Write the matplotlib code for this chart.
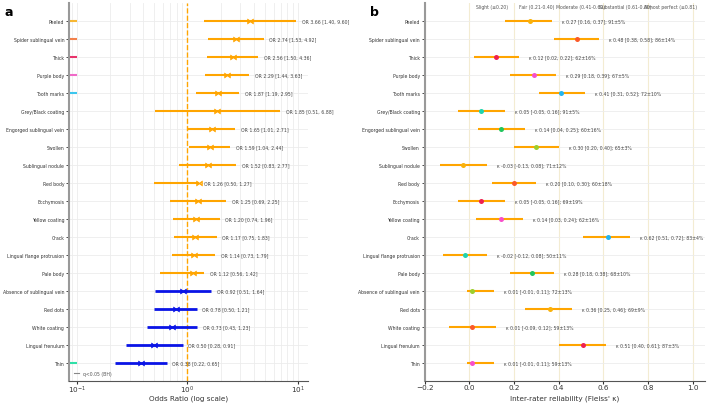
import matplotlib
matplotlib.use("Agg")
import matplotlib.pyplot as plt
from matplotlib.lines import Line2D
import numpy as np

# ознаки (зверху вниз)
features = ["Peeled", "Spider sublingual vein", "Thick", "Purple body", "Tooth marks",
            "Grey/Black coating", "Engorged sublingual vein", "Swollen", "Sublingual nodule",
            "Red body", "Ecchymosis", "Yellow coating", "Crack", "Lingual flange protrusion",
            "Pale body", "Absence of sublingual vein", "Red dots", "White coating",
            "Lingual frenulum", "Thin"]

# панель a: odds ratio та 95% CI
or_val = [3.66, 2.74, 2.56, 2.29, 1.87, 1.85, 1.65, 1.59, 1.52, 1.26,
          1.25, 1.20, 1.17, 1.14, 1.12, 0.92, 0.78, 0.73, 0.50, 0.38]
or_lo = [1.40, 1.53, 1.50, 1.44, 1.19, 0.51, 1.01, 1.04, 0.83, 0.50,
         0.69, 0.74, 0.75, 0.73, 0.56, 0.51, 0.50, 0.43, 0.28, 0.22]
or_hi = [9.60, 4.92, 4.36, 3.63, 2.95, 6.88, 2.71, 2.44, 2.77, 1.27,
         2.25, 1.96, 1.83, 1.79, 1.42, 1.64, 1.21, 1.23, 0.91, 0.65]

# кольорові позначки біля осі на панелі a
tag_rows = ["Peeled", "Spider sublingual vein", "Thick", "Purple body", "Tooth marks", "Thin"]
tag_colors = ["#f7b733", "#f2804a", "#e8336b", "#f06ac8", "#3cc6ee", "#2fe0a8"]

# панель b: Fleiss' kappa, 95% CI та згода (%)
kappa = [0.27, 0.48, 0.12, 0.29, 0.41, 0.05, 0.14, 0.30, -0.03, 0.20,
         0.05, 0.14, 0.62, -0.02, 0.28, 0.01, 0.36, 0.01, 0.51, 0.01]
k_lo = [0.16, 0.38, 0.02, 0.18, 0.31, -0.05, 0.04, 0.20, -0.13, 0.10,
        -0.05, 0.03, 0.51, -0.12, 0.18, -0.01, 0.25, -0.09, 0.40, -0.01]
k_hi = [0.37, 0.58, 0.22, 0.39, 0.52, 0.16, 0.25, 0.40, 0.08, 0.30,
        0.16, 0.24, 0.72, 0.08, 0.38, 0.11, 0.46, 0.12, 0.61, 0.11]
agree = [91, 86, 62, 67, 72, 91, 60, 65, 71, 60, 69, 62, 83, 50, 68, 72, 69, 59, 87, 59]
agree_sd = [5, 14, 16, 5, 10, 5, 16, 3, 12, 18, 19, 16, 4, 11, 10, 13, 9, 13, 3, 13]

palette = ["#f9b20c", "#fb5a2a", "#ee2150", "#f74fcb", "#25b5ee", "#1fd4b0", "#22c55e", "#9ccf2d"]

bands = ["Slight (≤0.20)", "Fair (0.21-0.40)", "Moderate (0.41-0.60)",
         "Substantial (0.61-0.80)", "Almost perfect (≥0.81)"]
band_pos = [0.1, 0.3, 0.5, 0.7, 0.9]

ORANGE = "#ffa500"
y = np.arange(len(features))

fig = plt.figure(figsize=(7.08, 4.06), dpi=100)
ax1 = fig.add_axes([0.0975, 0.06, 0.3376, 0.93])
ax2 = fig.add_axes([0.600, 0.06, 0.3955, 0.93])

# ---------- панель a ----------
ax1.set_xscale("log")
ax1.set_xlim(0.085, 12.3)
ax1.set_ylim(len(features), -1)
ax1.grid(True, which="both", axis="x", color="#ececec", lw=0.6)
ax1.grid(True, which="major", axis="y", color="#ececec", lw=0.6)
ax1.set_axisbelow(True)
ax1.axvline(1, color=ORANGE, ls="--", lw=1)

for i in range(len(features)):
    c = ORANGE if or_val[i] >= 1 else "#0a14e6"
    lw = 1.5 if or_val[i] >= 1 else 2.0
    ax1.plot([or_lo[i], or_hi[i]], [i, i], color=c, lw=lw, solid_capstyle="butt")
    ax1.plot(or_val[i], i, marker="$\\bowtie$", color=c, ms=4.2, mew=0.4)
    ax1.text(or_hi[i] * 1.12, i, f"OR {or_val[i]:.2f} [{or_lo[i]:.2f}, {or_hi[i]:.2f}]",
             fontsize=3.3, color="#444444", va="center")

for name, c in zip(tag_rows, tag_colors):
    i = features.index(name)
    ax1.plot([0.085, 0.1], [i, i], color=c, lw=1.5, solid_capstyle="butt")

ax1.set_yticks(y)
ax1.set_yticklabels(features, fontsize=3.3, color="#333333")
ax1.set_xlabel("Odds Ratio (log scale)", fontsize=5.2, color="#333333")
ax1.xaxis.set_label_coords(0.5, -0.036)
ax1.tick_params(axis="x", labelsize=5.2, length=2, pad=0.5, colors="#333333")
ax1.tick_params(axis="x", which="minor", length=0)
ax1.tick_params(axis="y", length=2, pad=1.5, width=0.5)
ax1.legend(handles=[Line2D([], [], color="#888888", lw=0.8)], labels=["q<0.05 (BH)"],
           loc="lower left", fontsize=3.3, frameon=False, handlelength=1.2,
           labelcolor="#555555", borderaxespad=0.6)

# ---------- панель b ----------
ax2.set_xlim(-0.2, 1.055)
ax2.set_ylim(len(features), -1)
ax2.grid(True, axis="x", color="#f3ecd2", lw=0.8)
ax2.grid(True, axis="y", color="#ececec", lw=0.6)
ax2.set_axisbelow(True)

for i in range(len(features)):
    ax2.plot([k_lo[i], k_hi[i]], [i, i], color=ORANGE, lw=1.5, solid_capstyle="butt")
    ax2.plot(kappa[i], i, "o", color=palette[i % len(palette)], ms=3.6, mec="none")
    ax2.text(k_hi[i] + 0.045, i,
             f"κ {kappa[i]:.2f} [{k_lo[i]:.2f}, {k_hi[i]:.2f}]; {agree[i]}±{agree_sd[i]}%",
             fontsize=3.3, color="#444444", va="center")

for lab, p in zip(bands, band_pos):
    ax2.text(p, -0.8, lab, fontsize=3.3, color="#555555", ha="center", va="center")

ax2.set_yticks(y)
ax2.set_yticklabels(features, fontsize=3.3, color="#333333")
ax2.set_xticks([-0.2, 0.0, 0.2, 0.4, 0.6, 0.8, 1.0])
ax2.set_xlabel("Inter-rater reliability (Fleiss' κ)", fontsize=5.2, color="#333333")
ax2.xaxis.set_label_coords(0.5, -0.036)
ax2.tick_params(axis="x", labelsize=5.2, length=2, pad=0.5, colors="#333333")
ax2.tick_params(axis="y", length=2, pad=1.5, width=0.5)

for ax in (ax1, ax2):
    ax.spines["top"].set_visible(False)
    ax.spines["right"].set_visible(False)
    ax.spines["left"].set_color("#999999")
    ax.spines["left"].set_linewidth(1.5)
    ax.spines["bottom"].set_color("#555555")
    ax.spines["bottom"].set_linewidth(0.8)

fig.text(0.006, 0.985, "a", fontsize=9, fontweight="bold", va="top")
fig.text(0.523, 0.985, "b", fontsize=9, fontweight="bold", va="top")

fig.savefig("out.png", dpi=100)
